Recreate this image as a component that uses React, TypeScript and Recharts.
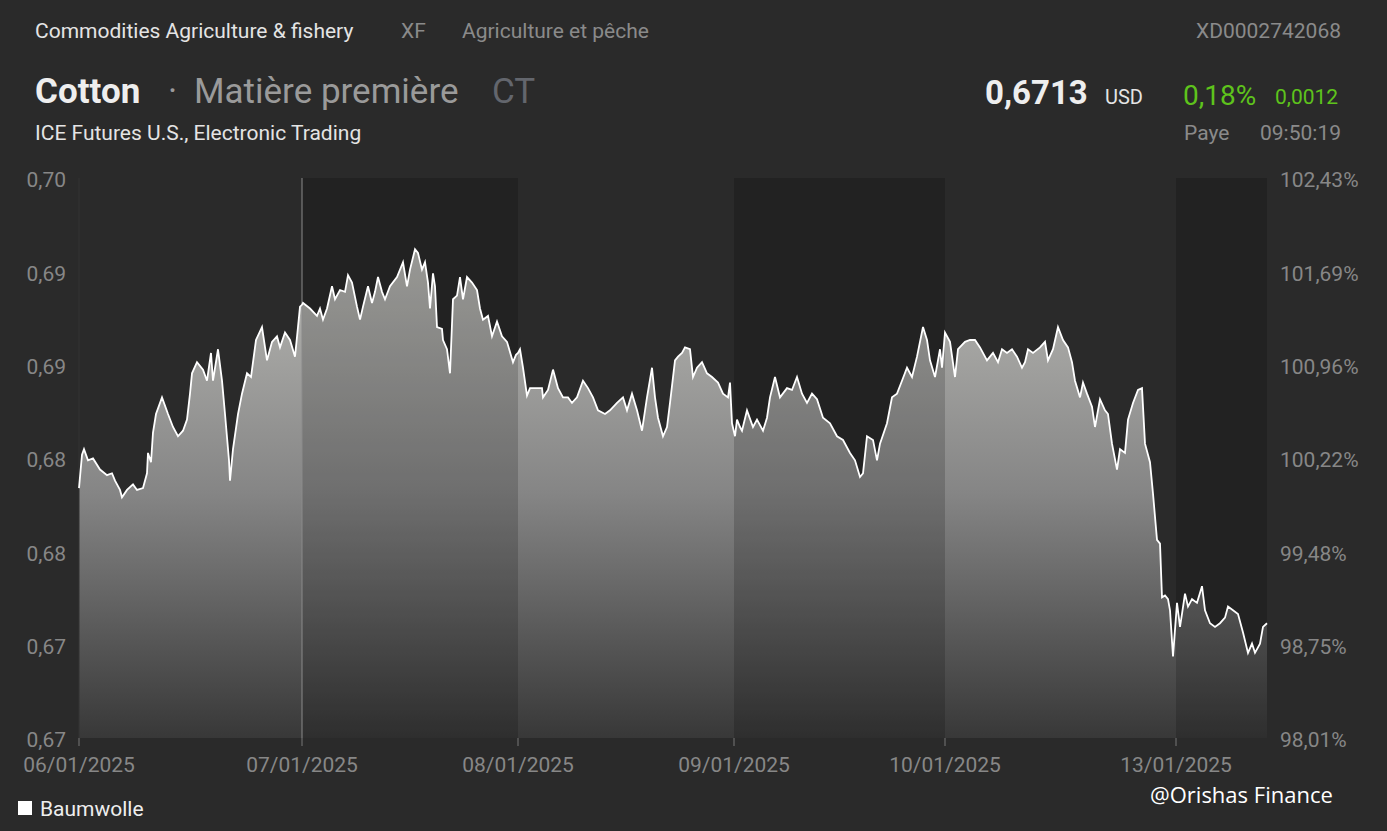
import { AreaChart, Area, Line, XAxis, YAxis, ReferenceArea, ReferenceLine } from 'recharts'

// trading days shown on the x axis, with the bar index where each session starts
const DAY_LABELS = ['06/01/2025', '07/01/2025', '08/01/2025', '09/01/2025', '10/01/2025', '13/01/2025']
const DAY_START = [0, 223, 439, 655, 866, 1097]
const SESSION_END = 1188

// [bar offset inside the day, price USD]
const day06: [number, number][] = [
  [0, 0.6842], [3, 0.6860], [5, 0.6863], [9, 0.6857], [14, 0.6858], [21, 0.6852], [28, 0.6849], [33, 0.6850],
  [36, 0.6846], [41, 0.6841], [43, 0.6837], [48, 0.6841], [54, 0.6844], [58, 0.6841], [64, 0.6842], [68, 0.6850],
  [69, 0.6861], [72, 0.6856], [74, 0.6872], [77, 0.6882], [83, 0.6891], [89, 0.6882], [94, 0.6875], [99, 0.6870],
  [104, 0.6873], [108, 0.6879], [111, 0.6893], [113, 0.6904], [118, 0.6910], [124, 0.6906], [128, 0.6900],
  [132, 0.6915], [134, 0.6900], [139, 0.6917], [143, 0.6900], [146, 0.6882], [150, 0.6857], [151, 0.6846],
  [154, 0.6863], [159, 0.6882], [163, 0.6893], [168, 0.6904], [172, 0.6902], [177, 0.6922], [183, 0.6929],
  [188, 0.6911], [193, 0.6921], [198, 0.6924], [201, 0.6918], [206, 0.6926], [211, 0.6922], [216, 0.6913],
  [219, 0.6929], [221, 0.6940],
]
const day07: [number, number][] = [
  [0, 0.6941], [1, 0.6942], [8, 0.6939], [15, 0.6935], [18, 0.6939], [21, 0.6933], [25, 0.6939], [30, 0.6951],
  [33, 0.6944], [38, 0.6949], [43, 0.6948], [46, 0.6957], [50, 0.6953], [55, 0.6940], [58, 0.6933], [61, 0.6940],
  [66, 0.6951], [70, 0.6942], [73, 0.6948], [76, 0.6956], [80, 0.6948], [83, 0.6944], [88, 0.6951], [95, 0.6956],
  [101, 0.6964], [105, 0.6951], [108, 0.6960], [113, 0.6971], [116, 0.6969], [120, 0.6960], [123, 0.6964],
  [126, 0.6953], [128, 0.6939], [131, 0.6958], [133, 0.6951], [135, 0.6929], [140, 0.6928], [141, 0.6922],
  [145, 0.6917], [148, 0.6904], [151, 0.6944], [155, 0.6946], [158, 0.6956], [161, 0.6944], [165, 0.6956],
  [170, 0.6953], [175, 0.6949], [178, 0.6939], [181, 0.6933], [186, 0.6935], [190, 0.6924], [195, 0.6932],
  [200, 0.6924], [205, 0.6921], [211, 0.6910], [214, 0.6914],
]
const day08: [number, number][] = [
  [0, 0.6915], [2, 0.6917], [5, 0.6907], [9, 0.6892], [12, 0.6896], [19, 0.6896], [24, 0.6896], [25, 0.6891],
  [30, 0.6895], [35, 0.6906], [40, 0.6896], [45, 0.6891], [50, 0.6891], [54, 0.6888], [59, 0.6891], [65, 0.6900],
  [70, 0.6896], [75, 0.6891], [80, 0.6884], [87, 0.6882], [92, 0.6884], [99, 0.6888], [105, 0.6891], [109, 0.6884],
  [114, 0.6893], [119, 0.6884], [124, 0.6873], [129, 0.6891], [134, 0.6907], [137, 0.6891], [140, 0.6880],
  [145, 0.6870], [149, 0.6875], [152, 0.6888], [157, 0.6911], [160, 0.6913], [164, 0.6915], [167, 0.6918],
  [172, 0.6917], [175, 0.6902], [179, 0.6907], [184, 0.6910], [189, 0.6904], [194, 0.6902], [200, 0.6899],
  [205, 0.6893], [210, 0.6891], [212, 0.6899], [214, 0.6877],
]
const day09: [number, number][] = [
  [1, 0.6870], [3, 0.6879], [6, 0.6875], [8, 0.6873], [13, 0.6884], [19, 0.6875], [23, 0.6879], [29, 0.6873],
  [33, 0.6880], [36, 0.6891], [41, 0.6902], [46, 0.6891], [53, 0.6896], [58, 0.6895], [63, 0.6902], [68, 0.6893],
  [73, 0.6888], [78, 0.6893], [83, 0.6890], [89, 0.6880], [96, 0.6877], [103, 0.6870], [109, 0.6868], [116, 0.6861],
  [121, 0.6857], [126, 0.6848], [129, 0.6850], [133, 0.6870], [139, 0.6868], [143, 0.6857], [146, 0.6866],
  [153, 0.6877], [158, 0.6891], [163, 0.6893], [168, 0.6900], [173, 0.6907], [178, 0.6902], [183, 0.6913],
  [189, 0.6929], [193, 0.6922], [196, 0.6911], [201, 0.6902], [206, 0.6917], [208, 0.6907],
]
const day10: [number, number][] = [
  [0, 0.6926], [5, 0.6921], [10, 0.6902], [13, 0.6917], [20, 0.6921], [25, 0.6922], [30, 0.6922], [35, 0.6918],
  [42, 0.6911], [48, 0.6915], [53, 0.6910], [57, 0.6917], [62, 0.6915], [67, 0.6917], [72, 0.6913], [77, 0.6907],
  [80, 0.6910], [83, 0.6917], [88, 0.6915], [95, 0.6918], [100, 0.6921], [103, 0.6911], [108, 0.6917], [113, 0.6929],
  [118, 0.6922], [123, 0.6918], [127, 0.6910], [130, 0.6900], [135, 0.6891], [138, 0.6899], [142, 0.6893],
  [147, 0.6886], [150, 0.6875], [155, 0.6890], [160, 0.6884], [163, 0.6882], [167, 0.6866], [172, 0.6852],
  [175, 0.6863], [180, 0.6861], [183, 0.6879], [188, 0.6888], [193, 0.6895], [197, 0.6896], [200, 0.6866],
  [205, 0.6856], [208, 0.6839], [212, 0.6814], [215, 0.6812], [217, 0.6783], [220, 0.6784], [223, 0.6782],
  [225, 0.6776], [228, 0.6751],
]
const day13: [number, number][] = [
  [1, 0.6780], [4, 0.6767], [6, 0.6774], [9, 0.6785], [12, 0.6778], [16, 0.6782], [21, 0.6780], [26, 0.6789],
  [29, 0.6776], [34, 0.6769], [39, 0.6767], [44, 0.6769], [49, 0.6772], [52, 0.6778], [57, 0.6776], [62, 0.6774],
  [67, 0.6764], [72, 0.6753], [76, 0.6758], [79, 0.6753], [84, 0.6758], [87, 0.6767], [91, 0.6769],
]

const PRICE_TICKS = [0.6707, 0.67574, 0.68078, 0.68583, 0.69087, 0.69591, 0.70095]
const PCT_TICKS = [98.01, 98.75, 99.48, 100.22, 100.96, 101.69, 102.43]

const data = [day06, day07, day08, day09, day10, day13].flatMap((pts, i) =>
  pts.map(([o, p]) => ({ bar: DAY_START[i] + o, price: p }))
)

const axisText = { fill: '#878787', fontSize: 21, fontFamily: 'Roboto' }
const yText = { ...axisText, dy: 2 }
const darkBand = 'rgba(0,0,0,0.17)'

const fmtPrice = (v: number) => (Math.floor(v * 100 + 1e-6) / 100).toFixed(2).replace('.', ',')
const fmtPct = (v: number) => v.toFixed(2).replace('.', ',') + '%'

const abs = (left: number, top: number, extra: any = {}) => ({ position: 'absolute' as const, left, top, whiteSpace: 'nowrap' as const, ...extra })

export default function App() {
  return (
    <div style={{ position: 'fixed', left: 0, top: 0, width: 1387, height: 831, background: '#2a2a2a', fontFamily: 'Roboto, sans-serif', overflow: 'hidden' }}>
      <AreaChart width={1387} height={831} data={data} margin={{ top: 178, right: 20, bottom: 53, left: 13 }}>
        <defs>
          <linearGradient id="cottonFill" x1="0" y1="0" x2="0" y2="1">
            <stop offset="0%" stopColor="#b8b8b4" />
            <stop offset="50%" stopColor="#858585" />
            <stop offset="100%" stopColor="#383838" />
          </linearGradient>
        </defs>
        <XAxis dataKey="bar" type="number" domain={[0, SESSION_END]} ticks={DAY_START} interval={0}
          tickFormatter={(v: number) => DAY_LABELS[DAY_START.indexOf(v)]} height={40}
          axisLine={false} tickLine={{ stroke: '#777' }} tickSize={8} tickMargin={11} tick={axisText} />
        <YAxis yAxisId="price" domain={[PRICE_TICKS[0], PRICE_TICKS[6]]} ticks={PRICE_TICKS} interval={0}
          tickFormatter={fmtPrice} width={66} axisLine={false} tickLine={false} tickSize={0} tickMargin={13} tick={yText} />
        <YAxis yAxisId="pct" orientation="right" type="number" domain={[PCT_TICKS[0], PCT_TICKS[6]]} ticks={PCT_TICKS}
          interval={0} allowDataOverflow tickFormatter={fmtPct} width={100} axisLine={false} tickLine={false}
          tickSize={0} tickMargin={13} tick={yText} />
        <Area yAxisId="price" type="linear" dataKey="price" stroke="none" fill="url(#cottonFill)" fillOpacity={1}
          isAnimationActive={false} />
        <ReferenceArea yAxisId="price" x1={DAY_START[1]} x2={DAY_START[2]} fill={darkBand} fillOpacity={1} stroke="none" zIndex={150} />
        <ReferenceArea yAxisId="price" x1={DAY_START[3]} x2={DAY_START[4]} fill={darkBand} fillOpacity={1} stroke="none" zIndex={150} />
        <ReferenceArea yAxisId="price" x1={DAY_START[5]} x2={SESSION_END} fill={darkBand} fillOpacity={1} stroke="none" zIndex={150} />
        <ReferenceLine yAxisId="price" x={DAY_START[1]} stroke="#8a8a8a" strokeWidth={1} zIndex={160} />
        <ReferenceLine yAxisId="price" x={DAY_START[0]} stroke="#333" strokeWidth={1} zIndex={160} />
        <Line yAxisId="price" type="linear" dataKey="price" stroke="#ffffff" strokeWidth={1.8} dot={false}
          isAnimationActive={false} />
      </AreaChart>

      <div style={abs(35, 19, { fontSize: 21, color: '#e4e4e4' })}>Commodities Agriculture &amp; fishery</div>
      <div style={abs(401, 19, { fontSize: 21, color: '#8a8a8a' })}>XF</div>
      <div style={abs(462, 19, { fontSize: 21, color: '#8a8a8a' })}>Agriculture et pêche</div>
      <div style={abs(1341, 19, { fontSize: 21, color: '#8a8a8a', transform: 'translateX(-100%)' })}>XD0002742068</div>

      <div style={abs(35, 71, { fontSize: 35, fontWeight: 700, color: '#eeeeee' })}>Cotton</div>
      <div style={abs(168, 71, { fontSize: 35, color: '#9a9a9a' })}>·</div>
      <div style={abs(194, 71, { fontSize: 35, color: '#9a9a9a' })}>Matière première</div>
      <div style={abs(492, 71, { fontSize: 35, color: '#63666d' })}>CT</div>
      <div style={abs(35, 121, { fontSize: 21, color: '#e4e4e4' })}>ICE Futures U.S., Electronic Trading</div>

      <div style={abs(985, 73, { fontSize: 33, fontWeight: 700, color: '#eeeeee' })}>0,6713</div>
      <div style={abs(1105, 85, { fontSize: 20, color: '#e4e4e4' })}>USD</div>
      <div style={abs(1183, 79, { fontSize: 28, color: '#5ec31c' })}>0,18%</div>
      <div style={abs(1275, 85, { fontSize: 21, color: '#5ec31c' })}>0,0012</div>
      <div style={abs(1184, 121, { fontSize: 21, color: '#8a8a8a' })}>Paye</div>
      <div style={abs(1341, 121, { fontSize: 21, color: '#8a8a8a', transform: 'translateX(-100%)' })}>09:50:19</div>

      <div style={abs(18, 801, { width: 14, height: 14, background: '#ffffff' })} />
      <div style={abs(40, 797, { fontSize: 21, color: '#eeeeee' })}>Baumwolle</div>
      <div style={abs(1150, 779, { fontSize: 22, color: '#ffffff', fontFamily: '"Open Sans", sans-serif' })}>@Orishas Finance</div>
    </div>
  )
}
